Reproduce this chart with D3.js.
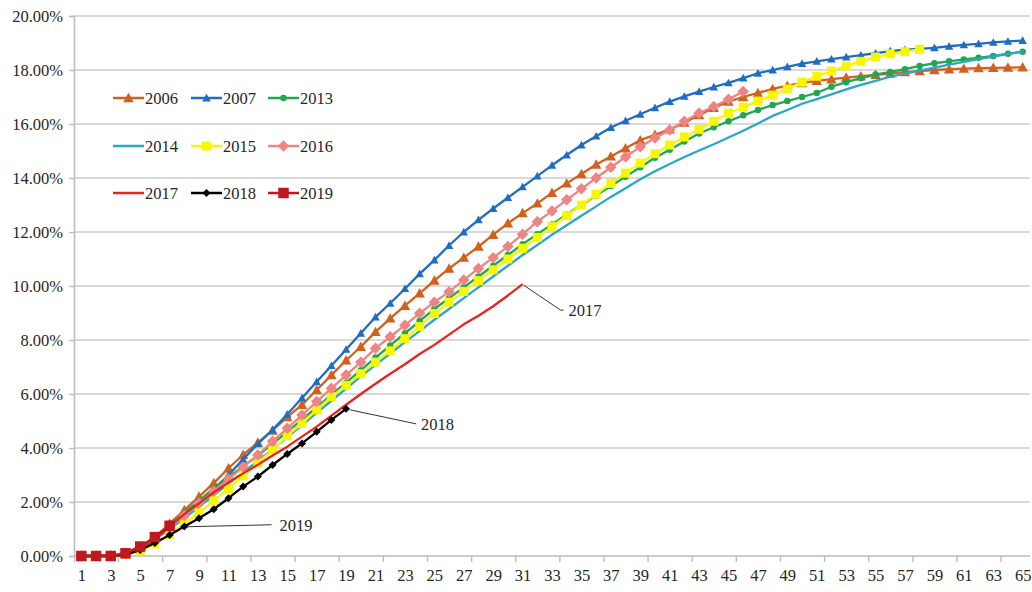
<!DOCTYPE html>
<html><head><meta charset="utf-8">
<script src="https://cdn.jsdelivr.net/npm/d3@7"></script>
<style>
html,body{margin:0;padding:0;background:#fff;}
svg text{font-family:"Liberation Serif","Times New Roman",serif;fill:#262626;}
</style></head>
<body>
<svg id="chart" width="1032" height="592"></svg>
<script>
// ---------- data ----------
const categories = d3.range(1, 66);
const yTicks = [0, 2, 4, 6, 8, 10, 12, 14, 16, 18, 20];
const xLabelTicks = d3.range(1, 66, 2);

const s2006 = [0,0,0.02,0.12,0.35,0.7,1.2,1.7,2.2,2.7,
  3.25,3.75,4.2,4.65,5.15,5.6,6.15,6.7,7.25,7.75,
  8.3,8.8,9.27,9.73,10.2,10.65,11.05,11.46,11.9,12.32,
  12.7,13.06,13.45,13.8,14.15,14.5,14.8,15.1,15.4,15.6,
  15.8,16.05,16.33,16.6,16.83,17.0,17.15,17.3,17.42,17.52,
  17.6,17.66,17.72,17.77,17.82,17.87,17.92,17.96,18.0,18.03,
  18.05,18.07,18.08,18.09,18.1];
const s2007 = [0,0,0.02,0.1,0.3,0.62,1.08,1.52,1.98,2.48,
  3.0,3.58,4.15,4.67,5.25,5.85,6.45,7.05,7.65,8.25,
  8.85,9.36,9.9,10.45,10.96,11.5,12.0,12.45,12.87,13.27,
  13.67,14.07,14.47,14.85,15.22,15.55,15.87,16.12,16.36,16.6,
  16.83,17.02,17.2,17.37,17.52,17.7,17.88,18.0,18.12,18.24,
  18.32,18.4,18.48,18.55,18.62,18.7,18.75,18.78,18.82,18.88,
  18.93,18.97,19.02,19.06,19.09];
const s2013 = [0,0,0.02,0.1,0.32,0.68,1.12,1.6,2.05,2.5,
  2.92,3.32,3.72,4.15,4.6,5.05,5.5,5.97,6.42,6.88,
  7.35,7.8,8.25,8.7,9.15,9.55,9.95,10.35,10.75,11.15,
  11.55,11.92,12.28,12.65,13.0,13.35,13.7,14.05,14.4,14.75,
  15.05,15.35,15.65,15.88,16.1,16.32,16.52,16.7,16.85,17.0,
  17.15,17.38,17.55,17.7,17.83,17.93,18.03,18.15,18.25,18.32,
  18.39,18.45,18.52,18.6,18.68];
const s2014 = [0,0,0.02,0.08,0.3,0.62,1.0,1.4,1.82,2.25,
  2.68,3.1,3.52,3.95,4.4,4.85,5.3,5.75,6.2,6.65,
  7.08,7.5,7.92,8.33,8.75,9.15,9.55,9.95,10.35,10.75,
  11.15,11.52,11.9,12.25,12.6,12.95,13.3,13.62,13.95,14.25,
  14.52,14.78,15.02,15.25,15.5,15.75,16.02,16.3,16.52,16.75,
  16.92,17.1,17.28,17.45,17.6,17.75,17.87,17.98,18.09,18.2,
  18.3,18.4,18.5,18.6,18.68];
const s2015 = [0,0,0,0.05,0.2,0.45,0.8,1.2,1.6,2.05,
  2.5,2.97,3.45,3.93,4.45,4.91,5.41,5.9,6.32,6.75,
  7.18,7.6,8.05,8.5,8.98,9.4,9.8,10.2,10.6,11.0,
  11.4,11.8,12.2,12.6,13.0,13.4,13.8,14.18,14.55,14.9,
  15.22,15.52,15.8,16.1,16.4,16.62,16.85,17.07,17.3,17.55,
  17.77,17.96,18.15,18.32,18.48,18.6,18.68,18.77];
const s2016 = [0,0,0.02,0.1,0.3,0.65,1.05,1.5,1.95,2.4,
  2.85,3.3,3.74,4.25,4.73,5.22,5.72,6.21,6.7,7.18,
  7.69,8.12,8.55,8.99,9.4,9.79,10.22,10.65,11.05,11.46,
  11.92,12.38,12.78,13.19,13.6,14.0,14.4,14.78,15.16,15.48,
  15.78,16.1,16.4,16.65,16.92,17.2];
const s2017 = [0,0,0,0.05,0.25,0.6,1.1,1.55,1.95,2.35,
  2.72,3.06,3.38,3.72,4.05,4.42,4.79,5.2,5.6,6.0,
  6.38,6.75,7.1,7.48,7.82,8.2,8.58,8.9,9.25,9.65,10.07];
const s2018 = [0,0,0,0.05,0.22,0.48,0.78,1.09,1.4,1.73,
  2.14,2.57,2.94,3.37,3.78,4.17,4.6,5.04,5.45];
const s2019 = [0,0,0,0.1,0.35,0.7,1.12];

const seriesNames = ["2006","2007","2013","2014","2015","2016","2017","2018","2019"];
const seriesValues = [s2006,s2007,s2013,s2014,s2015,s2016,s2017,s2018,s2019];
const annotations = [ {name:"2019", idx:7}, {name:"2018", idx:19}, {name:"2017", idx:31} ];

// ---------- styles ----------
const styles = {
  "2006":{color:"#D2601E", marker:"triangle", size:10.5},
  "2007":{color:"#1F6DC2", marker:"triangle", size:8.5},
  "2013":{color:"#1FA84F", marker:"circle", size:6.5},
  "2014":{color:"#2BA6C9", marker:null, size:0},
  "2015":{color:"#F7F700", marker:"square", size:9},
  "2016":{color:"#EE8484", marker:"diamond", size:11.5},
  "2017":{color:"#E8231F", marker:null, size:0},
  "2018":{color:"#000000", marker:"diamond", size:8},
  "2019":{color:"#C0181E", marker:"square", size:10.5}
};

const svg = d3.select("#chart");
const L = 74, R = 1030, T = 16, B = 556;
const x = d3.scaleLinear().domain([0.5, 65.5]).range([L, R]);
const y = d3.scaleLinear().domain([0, 20]).range([B, T]);

// gridlines
svg.append("g").selectAll("line").data(yTicks.filter(d => d > 0)).join("line")
  .attr("x1", L).attr("x2", R).attr("y1", d => y(d)).attr("y2", d => y(d))
  .attr("stroke", "#cccccc").attr("stroke-width", 1.6);

// y axis
const yAxis = svg.append("g").attr("transform", `translate(${L},0)`)
  .call(d3.axisLeft(y).tickValues(yTicks).tickSize(5).tickPadding(6)
    .tickFormat(d => d.toFixed(2) + "%"));
yAxis.select(".domain").attr("stroke", "#bdbdbd").attr("stroke-width", 1.6);
yAxis.selectAll(".tick line").attr("stroke", "#bdbdbd").attr("stroke-width", 1.4);
yAxis.selectAll(".tick text").style("font-size", "16.5px").attr("fill", "#262626")
  .style("font-family", '"Liberation Serif", serif');

// x axis: tick marks at every 3rd category boundary
const xTickAxis = svg.append("g").attr("transform", `translate(0,${B})`)
  .call(d3.axisBottom(x).tickValues(d3.range(0.5, 65, 3)).tickSize(6).tickFormat(""));
xTickAxis.select(".domain").attr("stroke", "#bdbdbd").attr("stroke-width", 1.6)
  .attr("d", `M${L},0H${R}`);
xTickAxis.selectAll(".tick line").attr("stroke", "#bdbdbd").attr("stroke-width", 1.4);

// x labels
const xLabAxis = svg.append("g").attr("transform", `translate(0,${B})`)
  .call(d3.axisBottom(x).tickValues(xLabelTicks).tickSize(0).tickPadding(13));
xLabAxis.select(".domain").remove();
xLabAxis.selectAll(".tick text").style("font-size", "16.5px").attr("fill", "#262626")
  .style("font-family", '"Liberation Serif", serif');

// markers
function markerPath(type, s) {
  const h = s / 2;
  if (type === "triangle") return `M0,${-h}L${h},${h*0.8}L${-h},${h*0.8}Z`;
  if (type === "square") return `M${-h},${-h}H${h}V${h}H${-h}Z`;
  if (type === "diamond") return `M0,${-h}L${h},0L0,${h}L${-h},0Z`;
  if (type === "circle") return d3.symbol(d3.symbolCircle, Math.PI * h * h)();
  return "";
}

const line = d3.line().x(d => x(d.i)).y(d => y(d.v));

seriesNames.forEach((name, k) => {
  const st = styles[name];
  const pts = seriesValues[k].map((v, j) => ({i: categories[j], v}));
  const g = svg.append("g");
  g.append("path").datum(pts).attr("d", line)
    .attr("fill", "none").attr("stroke", st.color).attr("stroke-width", 2.3)
    .attr("stroke-linejoin", "round");
  if (st.marker) {
    g.selectAll("path.m").data(pts).join("path").attr("class", "m")
      .attr("transform", d => `translate(${x(d.i)},${y(d.v)})`)
      .attr("d", markerPath(st.marker, st.size)).attr("fill", st.color);
  }
});

// annotations (leader lines)
const annoOffsets = {
  "2019": {pts: [[17, 1], [102, -1]], tx: 110, ty: 5},
  "2018": {pts: [[4, 1], [70, 15]], tx: 75, ty: 21},
  "2017": {pts: [[1, 1], [38, 26], [41, 26]], tx: 46, ty: 32}
};
annotations.forEach(a => {
  const k = seriesNames.indexOf(a.name);
  const v = seriesValues[k][a.idx - 1];
  const px = x(a.idx), py = y(v);
  const o = annoOffsets[a.name];
  svg.append("path")
    .attr("d", d3.line()(o.pts.map(p => [px + p[0], py + p[1]])))
    .attr("fill", "none").attr("stroke", "#333").attr("stroke-width", 1);
  svg.append("text").attr("x", px + o.tx).attr("y", py + o.ty)
    .style("font-size", "16.5px").text(a.name);
});

// legend
const legendRows = [["2006","2007","2013"],["2014","2015","2016"],["2017","2018","2019"]];
const legX = [113, 191, 268], legY = [98, 146, 193];
legendRows.forEach((row, r) => row.forEach((name, c) => {
  const st = styles[name];
  const g = svg.append("g").attr("transform", `translate(${legX[c]},${legY[r]})`);
  g.append("line").attr("x1", 0).attr("x2", 31).attr("stroke", st.color).attr("stroke-width", 2.5);
  if (st.marker) g.append("path").attr("transform", "translate(15.5,0)")
    .attr("d", markerPath(st.marker, st.size)).attr("fill", st.color);
  g.append("text").attr("x", 32).attr("y", 5.5).style("font-size", "16.5px").text(name);
}));
</script>
</body></html>
